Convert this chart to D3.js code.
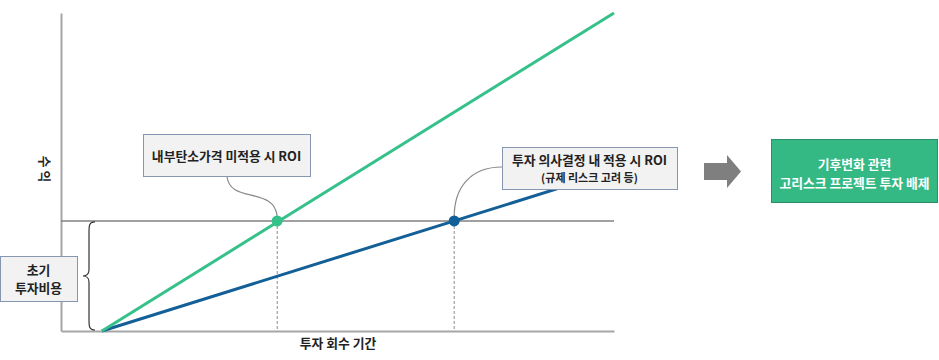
<!DOCTYPE html>
<html><head><meta charset="utf-8">
<script src="https://cdn.jsdelivr.net/npm/d3@7"></script>
<style>
html,body{margin:0;padding:0;background:#fff;}
text{font-family:"Noto Sans CJK KR","Noto Sans",sans-serif;font-weight:700;fill:#222;}
</style></head>
<body><svg id="c" width="939" height="360"></svg>
<script>
// ---- data ----
const xDomain = [0, 100];          // investment payback period (relative)
const yDomain = [0, 100];          // revenue (relative)
const initialCost = 34.6;          // initial investment level
const greenSeries = [[7.4, 0], [100, 100]];   // ROI without internal carbon price
const blueSeries  = [[7.4, 0], [97, 48.7]];   // ROI with internal carbon price applied
const breakEven = [{x: 39.1, y: 34.6, key: "green"}, {x: 71.1, y: 34.6, key: "blue"}];
const xLabel = "투자 회수 기간";
const yLabel = "수 익";
const costLabel = ["초기", "투자비용"];
const note1 = ["내부탄소가격 미적용 시 ROI"];
const note2 = ["투자 의사결정 내 적용 시 ROI", "(규제 리스크 고려 등)"];
const resultLabel = ["기후변화 관련", "고리스크 프로젝트 투자 배제"];
const colors = {green: "#36c18b", blue: "#135f97"};

// ---- drawing ----
const svg = d3.select("#c");
const x = d3.scaleLinear().domain(xDomain).range([61, 614]);
const y = d3.scaleLinear().domain(yDomain).range([331, 13]);
const FS = 12.8;

// axes (no ticks)
svg.append("g").attr("transform", `translate(${x(0)},0)`)
  .call(d3.axisLeft(y).ticks(0).tickSizeOuter(0))
  .select(".domain").attr("stroke", "#a6a6a6").attr("stroke-width", 2);
svg.append("g").attr("transform", `translate(0,${y(0)})`)
  .call(d3.axisBottom(x).ticks(0).tickSizeOuter(0))
  .select(".domain").attr("stroke", "#a6a6a6").attr("stroke-width", 2);

// initial cost line
svg.append("line").attr("x1", x(0)).attr("x2", x(100))
  .attr("y1", y(initialCost)).attr("y2", y(initialCost))
  .attr("stroke", "#808080").attr("stroke-width", 1.5);

// dashed drop lines
svg.selectAll(".drop").data(breakEven).join("line")
  .attr("x1", d => x(d.x)).attr("x2", d => x(d.x))
  .attr("y1", d => y(d.y)).attr("y2", y(0))
  .attr("stroke", "#8a8a8a").attr("stroke-width", 1).attr("stroke-dasharray", "3,2");

// brace
const bx = 95, by1 = y(initialCost) + 1, by2 = y(0) - 1, bm = (by1 + by2) / 2;
svg.append("path")
  .attr("d", `M${bx},${by1} C${bx-6},${by1} ${bx-6},${by1+4} ${bx-6},${by1+10} L${bx-6},${bm-6} C${bx-6},${bm-2} ${bx-9},${bm} ${bx-12},${bm} C${bx-9},${bm} ${bx-6},${bm+2} ${bx-6},${bm+6} L${bx-6},${by2-10} C${bx-6},${by2-4} ${bx-6},${by2} ${bx},${by2}`)
  .attr("fill", "none").attr("stroke", "#333").attr("stroke-width", 1.2);

// series lines
const line = d3.line().x(d => x(d[0])).y(d => y(d[1]));
svg.append("path").datum(blueSeries).attr("d", line)
  .attr("fill", "none").attr("stroke", colors.blue).attr("stroke-width", 3);
svg.append("path").datum(greenSeries).attr("d", line)
  .attr("fill", "none").attr("stroke", colors.green).attr("stroke-width", 3);

// connectors
const g1 = breakEven[0], b1 = breakEven[1];
svg.append("path")
  .attr("d", `M227,176 C229,204 ${x(g1.x)-2},186 ${x(g1.x)},${y(g1.y)-4}`)
  .attr("fill", "none").attr("stroke", "#8a8a8a").attr("stroke-width", 1.2);
svg.append("path")
  .attr("d", `M502,167 C470,167 ${x(b1.x)},188 ${x(b1.x)},${y(b1.y)-4}`)
  .attr("fill", "none").attr("stroke", "#8a8a8a").attr("stroke-width", 1.2);

// dots
svg.selectAll(".dot").data(breakEven).join("circle")
  .attr("cx", d => x(d.x)).attr("cy", d => y(d.y)).attr("r", 5.5)
  .attr("fill", d => colors[d.key]);

// boxes
function box(x0, y0, w, h, lines, size2) {
  svg.append("rect").attr("x", x0 + 0.5).attr("y", y0 + 0.5).attr("width", w).attr("height", h)
    .attr("fill", "#f2f2f2").attr("stroke", "#8796b0").attr("stroke-width", 1);
  const n = lines.length, lh = 18;
  lines.forEach((t, i) => {
    svg.append("text").attr("x", x0 + w / 2).attr("y", y0 + h / 2 + (i - (n - 1) / 2) * lh)
      .attr("text-anchor", "middle").attr("dominant-baseline", "central")
      .attr("font-size", i > 0 && size2 ? size2 : FS).text(t);
  });
}
box(143, 134, 167, 42, note1);
box(502, 147, 175, 42, note2, 11);
box(0, 256, 77, 45, costLabel);

// axis labels
svg.append("text").attr("x", 338).attr("y", 342)
  .attr("text-anchor", "middle").attr("dominant-baseline", "central")
  .attr("font-size", FS).text(xLabel);
svg.append("text").attr("transform", "translate(45,169) rotate(90)")
  .attr("text-anchor", "middle").attr("dominant-baseline", "central")
  .attr("font-size", FS).text(yLabel);

// arrow
svg.append("path")
  .attr("d", "M704,163 L727,163 L727,155 L741,171.5 L727,188 L727,180 L704,180 Z")
  .attr("fill", "#7f7f7f");

// result box
svg.append("rect").attr("x", 771.5).attr("y", 139.5).attr("width", 166).attr("height", 63)
  .attr("fill", "#34b985").attr("stroke", "#2a8f68").attr("stroke-width", 1);
resultLabel.forEach((t, i) => {
  svg.append("text").attr("x", 854.5).attr("y", 163 + i * 19)
    .attr("text-anchor", "middle").attr("dominant-baseline", "central")
    .attr("font-size", FS).style("fill", "#fff").text(t);
});
</script></body></html>
